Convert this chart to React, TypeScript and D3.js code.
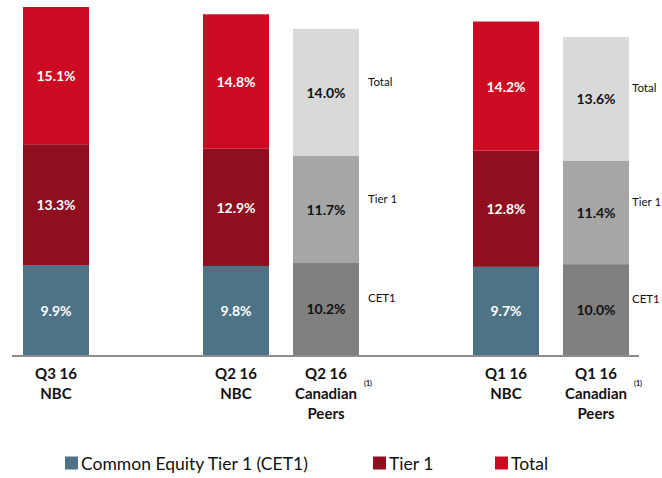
import React from 'react';
import * as d3 from 'd3';

// slots on the x axis; the two "gap" slots stay empty
const slots = ['Q3NBC', 'gap1', 'Q2NBC', 'Q2Peers', 'gap2', 'Q1NBC', 'Q1Peers'];
const barSlots = ['Q3NBC', 'Q2NBC', 'Q2Peers', 'Q1NBC', 'Q1Peers'];
const barLabels = [
  ['Q3 16', 'NBC'],
  ['Q2 16', 'NBC'],
  ['Q2 16', 'Canadian', 'Peers'],
  ['Q1 16', 'NBC'],
  ['Q1 16', 'Canadian', 'Peers'],
];
const isPeers = [false, false, true, false, true];

const cet1 = [9.9, 9.8, 10.2, 9.7, 10.0];
const tier1 = [13.3, 12.9, 11.7, 12.8, 11.4];
const total = [15.1, 14.8, 14.0, 14.2, 13.6];

const seriesKeys = ['cet1', 'tier1', 'total'];
const seriesNames = ['CET1', 'Tier 1', 'Total'];
const legendNames = ['Common Equity Tier 1 (CET1)', 'Tier 1', 'Total'];
const nbcColors = ['#4e7386', '#8f0f1e', '#cc0a21'];
const peerColors = ['#808080', '#a6a6a6', '#d9d9d9'];

const FONT = 'Lato, "Open Sans", sans-serif';

export default function App() {
  const width = 662;
  const height = 478;
  const baseline = 355;

  const rows = barSlots.map((slot, i) => ({
    slot,
    cet1: cet1[i],
    tier1: tier1[i],
    total: total[i],
  }));
  const stacked = d3.stack<any>().keys(seriesKeys)(rows);
  const maxVal = d3.max(rows, r => r.cet1 + r.tier1 + r.total) as number;

  const x = d3
    .scaleBand()
    .domain(slots)
    .range([11, 641])
    .paddingInner(24 / 90)
    .paddingOuter(12 / 90);
  const y = d3.scaleLinear().domain([0, maxVal]).range([baseline, 7]);
  const bw = x.bandwidth();

  const legendX = [65, 373, 495];

  return (
    <svg
      width={width}
      height={height}
      style={{ position: 'absolute', left: 0, top: 0, background: '#fff' }}
    >
      {stacked.map((layer, si) =>
        layer.map((d, i) => {
          const x0 = x(barSlots[i]) as number;
          const y0 = y(d[1]);
          const y1 = y(d[0]);
          const peers = isPeers[i];
          // side labels: the rightmost bar has little room left
          const sideX = Math.min(x0 + bw + 9, width - 30);
          return (
            <g key={`${si}-${i}`}>
              <rect
                x={x0}
                y={y0}
                width={bw}
                height={y1 - y0}
                fill={peers ? peerColors[si] : nbcColors[si]}
              />
              <text
                x={x0 + bw / 2}
                y={(y0 + y1) / 2}
                textAnchor="middle"
                dominantBaseline="central"
                fontFamily={FONT}
                fontWeight="bold"
                fontSize={14}
                fill={peers ? '#111' : '#fff'}
              >
                {(d[1] - d[0]).toFixed(1)}%
              </text>
              {peers && (
                <text
                  x={sideX}
                  y={(y0 + y1) / 2 - 11}
                  dominantBaseline="central"
                  fontFamily={FONT}
                  fontSize={11.5}
                  fill="#111"
                >
                  {seriesNames[si]}
                </text>
              )}
            </g>
          );
        }),
      )}

      <line x1={12} x2={639} y1={baseline + 1} y2={baseline + 1} stroke="#8c8c8c" strokeWidth={2} />

      {barLabels.map((lines, i) => {
        const cx = (x(barSlots[i]) as number) + bw / 2;
        return (
          <g key={i}>
            {lines.map((t, li) => (
              <text
                key={li}
                x={cx}
                y={373 + li * 20}
                textAnchor="middle"
                dominantBaseline="central"
                fontFamily={FONT}
                fontWeight="bold"
                fontSize={15}
                fill="#111"
              >
                {t}
              </text>
            ))}
            {isPeers[i] && (
              <text
                x={cx + bw / 2 + 9}
                y={383}
                textAnchor="middle"
                dominantBaseline="central"
                fontFamily={FONT}
                fontWeight="bold"
                fontSize={7}
                fill="#111"
              >
                (1)
              </text>
            )}
          </g>
        );
      })}

      {legendNames.map((name, i) => (
        <g key={name} transform={`translate(${legendX[i]},463)`}>
          <rect x={0} y={-6.5} width={13} height={13} fill={nbcColors[i]} />
          <text
            x={16}
            y={0}
            dominantBaseline="central"
            fontFamily={FONT}
            fontSize={17.5}
            fill="#111"
          >
            {name}
          </text>
        </g>
      ))}
    </svg>
  );
}
